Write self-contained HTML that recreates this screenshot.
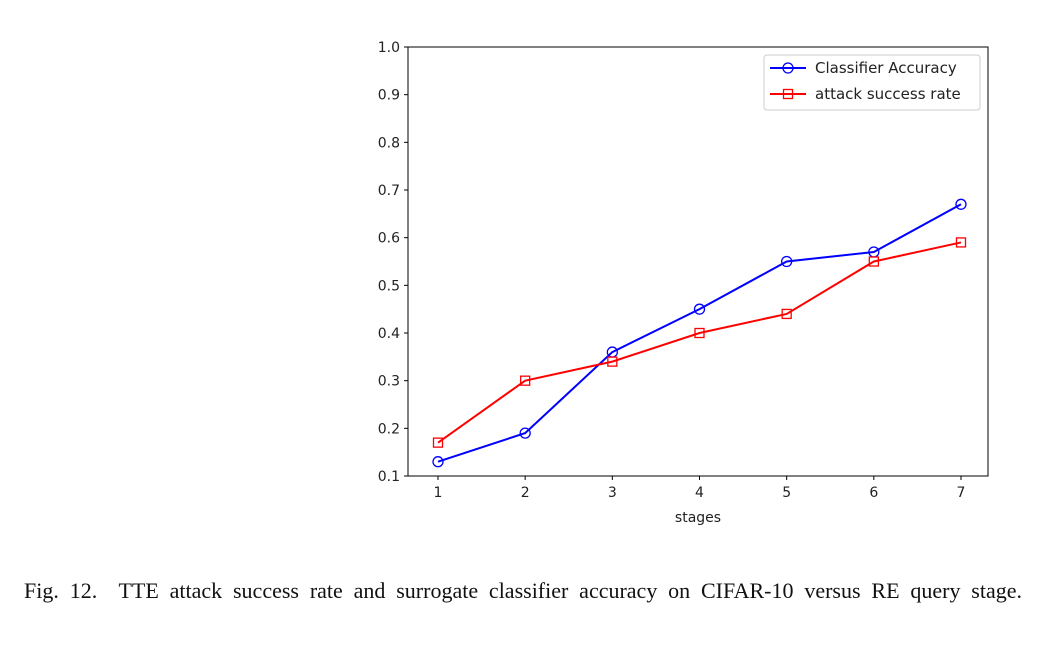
<!DOCTYPE html>
<html><head><meta charset="utf-8"><style>
body{margin:0;background:#fff;width:1046px;height:647px;overflow:hidden;font-family:"DejaVu Sans","Liberation Sans",sans-serif}
svg{position:absolute;left:0;top:0}
.cap{position:absolute;left:24px;top:578px;width:998px;font-family:"Liberation Serif",serif;font-size:22px;color:#111;text-align:justify;text-align-last:justify;white-space:normal}
</style></head><body>
<svg width="1046" height="647">
<g id="g"></g>
</svg>
<div class="cap">Fig. 12.&nbsp; TTE attack success rate and surrogate classifier accuracy on CIFAR-10 versus RE query stage.</div>
<script>
const stages=[1,2,3,4,5,6,7];
const accuracy=[0.13,0.19,0.36,0.45,0.55,0.57,0.67];
const attackRate=[0.17,0.30,0.34,0.40,0.44,0.55,0.59];
const yTicks=[0.1,0.2,0.3,0.4,0.5,0.6,0.7,0.8,0.9,1.0];
const L=408,R=988,T=47,B=476;
const xs=v=>438+(v-1)*(961-438)/6;
const ys=v=>B-(v-0.1)*(B-T)/0.9;
const NS="http://www.w3.org/2000/svg";
const g=document.getElementById('g');
function mk(t,a,txt){const e=document.createElementNS(NS,t);for(const k in a)e.setAttribute(k,a[k]);if(txt!==undefined)e.textContent=txt;g.appendChild(e);return e;}
let fr=mk('rect',{x:L,y:T,width:R-L,height:B-T,fill:'none',stroke:'#000','stroke-width':1});


yTicks.forEach(v=>{
 let t=mk('line',{x1:L-4,x2:L,y1:ys(v),y2:ys(v),stroke:'#000'});
 
 
 let l=mk('text',{x:L-8,y:ys(v)+5,'text-anchor':'end','font-size':14,fill:'#222'},v.toFixed(1));
 
 
});
stages.forEach(v=>{
 let t=mk('line',{x1:xs(v),x2:xs(v),y1:B,y2:B+4,stroke:'#000'});
 
 
 let l=mk('text',{x:xs(v),y:B+21,'text-anchor':'middle','font-size':14,fill:'#222'},String(v));
 
 
});
let xt=mk('text',{x:(L+R)/2,y:B+46,'text-anchor':'middle','font-size':14,fill:'#222'},'stages');


function series(vals,color,marker,name){
 let p=mk('polyline',{points:vals.map((v,i)=>xs(stages[i])+','+ys(v)).join(' '),fill:'none',stroke:color,'stroke-width':2});
 
 
 vals.forEach((v,i)=>{
  let m=marker==='o'?mk('circle',{cx:xs(stages[i]),cy:ys(v),r:5,fill:'none',stroke:color,'stroke-width':1.3})
   :mk('rect',{x:xs(stages[i])-4.5,y:ys(v)-4.5,width:9,height:9,fill:'none',stroke:color,'stroke-width':1.3});
  
  
 });
}
series(accuracy,'#0000ff','o','classifier-accuracy');
series(attackRate,'#ff0000','s','attack-success-rate');
let lb=mk('rect',{x:764,y:55,width:216,height:55,rx:3,fill:'#fff',stroke:'#ccc'});


[['#0000ff','o','Classifier Accuracy',68],['#ff0000','s','attack success rate',94]].forEach(([c,m,t,y])=>{
 let ln=mk('line',{x1:770,x2:806,y1:y,y2:y,stroke:c,'stroke-width':2});
 
 
 let mm=m==='o'?mk('circle',{cx:788,cy:y,r:5,fill:'none',stroke:c,'stroke-width':1.3}):mk('rect',{x:783.5,y:y-4.5,width:9,height:9,fill:'none',stroke:c,'stroke-width':1.3});
 
 
 let tx=mk('text',{x:815,y:y+5,'font-size':15,fill:'#222'},t);
 
 
});
</script>
</body></html>
